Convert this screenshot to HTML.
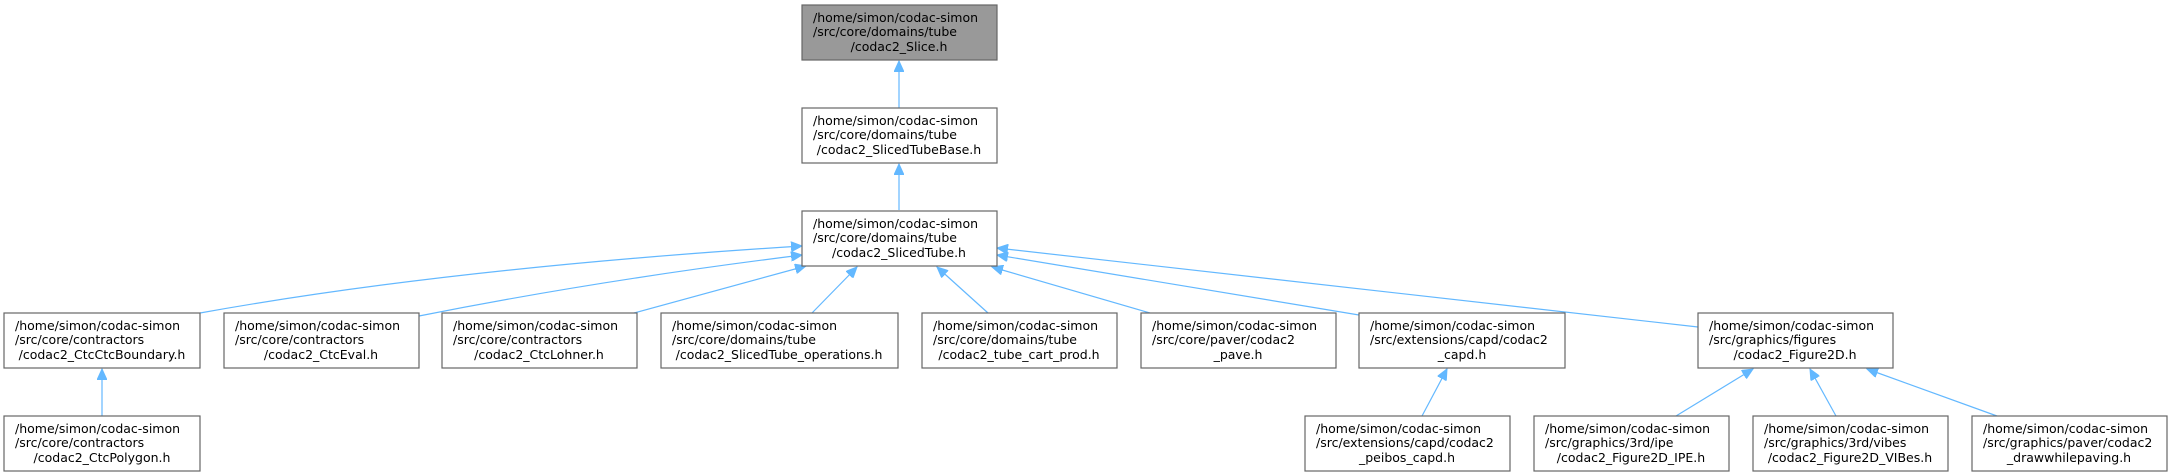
<!DOCTYPE html>
<html><head><meta charset="utf-8"><style>
html,body{margin:0;padding:0;background:#fff;}
svg{display:block;}
text{font-family:"DejaVu Sans","Liberation Sans",sans-serif;font-size:12.5px;fill:#000;}
rect{fill:#fff;stroke:#666;stroke-width:1.2;}
path{fill:none;stroke:#63b8ff;stroke-width:1.2;}
</style></head><body>
<svg width="2172" height="476" viewBox="0 0 2172 476" xmlns="http://www.w3.org/2000/svg">
<defs>
<marker id="a" markerWidth="12" markerHeight="10" refX="11" refY="5" orient="auto-start-reverse" markerUnits="userSpaceOnUse">
<path d="M0,0 L11,5 L0,10 Z" style="fill:#63b8ff;stroke:#63b8ff;stroke-width:1"/>
</marker>
</defs>
<!-- edges -->
<path d="M899,61 L899,108" marker-start="url(#a)"/>
<path d="M899,164 L899,210" marker-start="url(#a)"/>
<path d="M802,246 Q450,268 200,313" marker-start="url(#a)"/>
<path d="M802,255 Q600,280 419,316" marker-start="url(#a)"/>
<path d="M806,266 L634,313" marker-start="url(#a)"/>
<path d="M857,267 L812,313" marker-start="url(#a)"/>
<path d="M937,267 L988,313" marker-start="url(#a)"/>
<path d="M992,267 L1150,313" marker-start="url(#a)"/>
<path d="M997,255 L1359,315" marker-start="url(#a)"/>
<path d="M997,248 L1698,327" marker-start="url(#a)"/>
<path d="M102,369 L102,416" marker-start="url(#a)"/>
<path d="M1447,369 L1422,416" marker-start="url(#a)"/>
<path d="M1753,369 L1676,416" marker-start="url(#a)"/>
<path d="M1810,369 L1836,416" marker-start="url(#a)"/>
<path d="M1867,369 L1997,416" marker-start="url(#a)"/>
<!-- nodes -->
<g>
<rect x="802" y="5" width="195" height="55" style="fill:#999"/>
<text x="813" y="22">/home/simon/codac-simon</text><text x="813" y="36">/src/core/domains/tube</text><text x="899" y="51" text-anchor="middle">/codac2_Slice.h</text>
</g>
<g>
<rect x="802" y="108" width="195" height="55"/>
<text x="813" y="125">/home/simon/codac-simon</text><text x="813" y="139">/src/core/domains/tube</text><text x="899" y="154" text-anchor="middle">/codac2_SlicedTubeBase.h</text>
</g>
<g>
<rect x="802" y="211" width="195" height="55"/>
<text x="813" y="228">/home/simon/codac-simon</text><text x="813" y="242">/src/core/domains/tube</text><text x="899" y="257" text-anchor="middle">/codac2_SlicedTube.h</text>
</g>
<!-- row 3 -->
<g>
<rect x="4" y="313" width="196" height="55"/>
<text x="15" y="330">/home/simon/codac-simon</text><text x="15" y="344">/src/core/contractors</text><text x="102" y="359" text-anchor="middle">/codac2_CtcCtcBoundary.h</text>
</g>
<g>
<rect x="224" y="313" width="195" height="55"/>
<text x="235" y="330">/home/simon/codac-simon</text><text x="235" y="344">/src/core/contractors</text><text x="321" y="359" text-anchor="middle">/codac2_CtcEval.h</text>
</g>
<g>
<rect x="442" y="313" width="195" height="55"/>
<text x="453" y="330">/home/simon/codac-simon</text><text x="453" y="344">/src/core/contractors</text><text x="539" y="359" text-anchor="middle">/codac2_CtcLohner.h</text>
</g>
<g>
<rect x="661" y="313" width="237" height="55"/>
<text x="672" y="330">/home/simon/codac-simon</text><text x="672" y="344">/src/core/domains/tube</text><text x="779" y="359" text-anchor="middle">/codac2_SlicedTube_operations.h</text>
</g>
<g>
<rect x="922" y="313" width="195" height="55"/>
<text x="933" y="330">/home/simon/codac-simon</text><text x="933" y="344">/src/core/domains/tube</text><text x="1019" y="359" text-anchor="middle">/codac2_tube_cart_prod.h</text>
</g>
<g>
<rect x="1141" y="313" width="195" height="55"/>
<text x="1152" y="330">/home/simon/codac-simon</text><text x="1152" y="344">/src/core/paver/codac2</text><text x="1238" y="359" text-anchor="middle">_pave.h</text>
</g>
<g>
<rect x="1359" y="313" width="206" height="55"/>
<text x="1370" y="330">/home/simon/codac-simon</text><text x="1370" y="344">/src/extensions/capd/codac2</text><text x="1462" y="359" text-anchor="middle">_capd.h</text>
</g>
<g>
<rect x="1698" y="313" width="195" height="55"/>
<text x="1709" y="330">/home/simon/codac-simon</text><text x="1709" y="344">/src/graphics/figures</text><text x="1795" y="359" text-anchor="middle">/codac2_Figure2D.h</text>
</g>
<!-- row 4 -->
<g>
<rect x="4" y="416" width="196" height="55"/>
<text x="15" y="433">/home/simon/codac-simon</text><text x="15" y="447">/src/core/contractors</text><text x="102" y="462" text-anchor="middle">/codac2_CtcPolygon.h</text>
</g>
<g>
<rect x="1305" y="416" width="205" height="55"/>
<text x="1316" y="433">/home/simon/codac-simon</text><text x="1316" y="447">/src/extensions/capd/codac2</text><text x="1407" y="462" text-anchor="middle">_peibos_capd.h</text>
</g>
<g>
<rect x="1534" y="416" width="195" height="55"/>
<text x="1545" y="433">/home/simon/codac-simon</text><text x="1545" y="447">/src/graphics/3rd/ipe</text><text x="1631" y="462" text-anchor="middle">/codac2_Figure2D_IPE.h</text>
</g>
<g>
<rect x="1753" y="416" width="195" height="55"/>
<text x="1764" y="433">/home/simon/codac-simon</text><text x="1764" y="447">/src/graphics/3rd/vibes</text><text x="1850" y="462" text-anchor="middle">/codac2_Figure2D_VIBes.h</text>
</g>
<g>
<rect x="1972" y="416" width="195" height="55"/>
<text x="1983" y="433">/home/simon/codac-simon</text><text x="1983" y="447">/src/graphics/paver/codac2</text><text x="2069" y="462" text-anchor="middle">_drawwhilepaving.h</text>
</g>
</svg>
</body></html>
